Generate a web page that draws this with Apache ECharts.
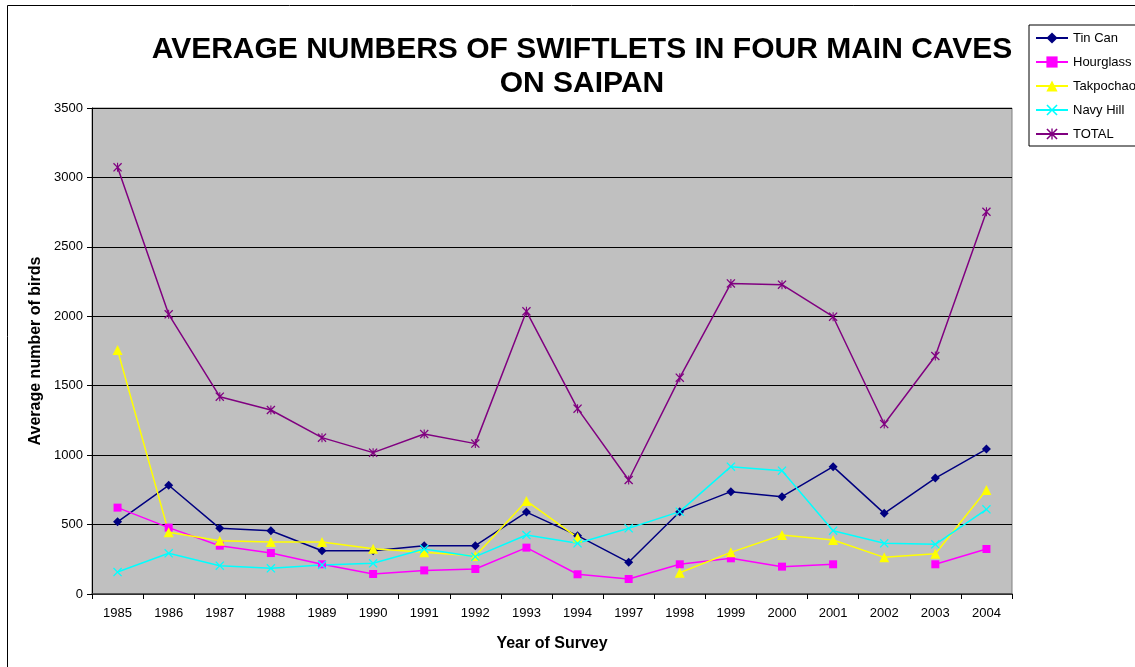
<!DOCTYPE html>
<html>
<head>
<meta charset="utf-8">
<title>Swiftlets on Saipan</title>
<script src="https://cdn.jsdelivr.net/npm/echarts@6/dist/echarts.min.js"></script>
<style>
  html, body { margin: 0; padding: 0; background: #fff; }
  #main { width: 1135px; height: 667px; }
</style>
</head>
<body>
<div id="main"></div>
<script>
const years = ['1985', '1986', '1987', '1988', '1989', '1990', '1991', '1992', '1993', '1994',
  '1997', '1998', '1999', '2000', '2001', '2002', '2003', '2004'];
const tinCan = [520, 783, 473, 456, 312, 311, 348, 348, 590, 420, 228, 593, 737, 701, 917, 581, 835, 1044];
const hourglass = [622, 478, 348, 295, 214, 144, 170, 180, 334, 142, 108, 214, 257, 197, 214, null, 214, 324];
const takpochao = [1757, 444, 384, 374, 374, 326, 300, 274, 670, 406, null, 153, 300, 425, 389, 264, 290, 749];
const navyHill = [158, 293, 204, 185, 209, 221, 324, 269, 425, 365, 473, 593, 917, 888, 456, 365, 358, 610];
const total = [3073, 2014, 1421, 1325, 1126, 1018, 1152, 1083, 2036, 1335, 821, 1558, 2237, 2228, 1997, 1224, 1714, 2753];

// x and asterisk markers as filled outlines
const crossPath = 'path://M0,1 L1,0 L5,4 L9,0 L10,1 L6,5 L10,9 L9,10 L5,6 L1,10 L0,9 L4,5 Z';
const starPath = 'path://M0,1 L1,0 L5,4 L9,0 L10,1 L6,5 L10,9 L9,10 L5,6 L1,10 L0,9 L4,5 Z M4.4,0 L5.6,0 L5.6,10 L4.4,10 Z';

const font = 'Arial, "Liberation Sans", sans-serif';

function makeSeries(name, data, color, symbol, size) {
  return {
    name: name,
    type: 'line',
    data: data,
    symbol: symbol,
    symbolSize: size,
    showSymbol: true,
    connectNulls: false,
    lineStyle: { color: color, width: 1.5 },
    itemStyle: { color: color, borderWidth: 0 },
    emphasis: { disabled: true }
  };
}

const option = {
  animation: false,
  textStyle: { fontFamily: font },
  title: {
    text: 'AVERAGE NUMBERS OF SWIFTLETS IN FOUR MAIN CAVES\nON SAIPAN',
    left: 577,
    top: 28,
    textAlign: 'center',
    textStyle: { fontFamily: font, fontSize: 30, fontWeight: 'bold', color: '#000', lineHeight: 34 }
  },
  legend: {
    orient: 'vertical',
    left: 1029,
    top: 25,
    padding: [6, 8, 5, 6],
    itemWidth: 32,
    itemHeight: 14,
    itemGap: 10,
    borderColor: '#000',
    borderWidth: 1,
    backgroundColor: '#fff',
    textStyle: { fontFamily: font, fontSize: 13, color: '#000', lineHeight: 14 },
    data: ['Tin Can', 'Hourglass', 'Takpochao', 'Navy Hill', 'TOTAL']
  },
  grid: {
    left: 92,
    top: 108,
    width: 920,
    height: 486,
    show: true,
    backgroundColor: '#C0C0C0',
    borderColor: '#808080',
    borderWidth: 1
  },
  xAxis: {
    type: 'category',
    data: years,
    boundaryGap: true,
    name: 'Year of Survey',
    nameLocation: 'middle',
    nameGap: 42,
    nameTextStyle: { fontFamily: font, fontSize: 16, fontWeight: 'bold', color: '#000' },
    axisLine: { lineStyle: { color: '#404040', width: 1.5 } },
    axisTick: { show: true, alignWithLabel: false, length: 5, inside: false, lineStyle: { color: '#000' } },
    axisLabel: { fontFamily: font, fontSize: 13, color: '#000', margin: 13 },
    splitLine: { show: false }
  },
  yAxis: {
    type: 'value',
    min: 0,
    max: 3500,
    interval: 500,
    name: 'Average number of birds',
    nameLocation: 'middle',
    nameGap: 48,
    nameTextStyle: { fontFamily: font, fontSize: 16, fontWeight: 'bold', color: '#000' },
    axisLine: { show: true, lineStyle: { color: '#000', width: 1 } },
    axisTick: { show: true, length: 5, lineStyle: { color: '#000' } },
    axisLabel: { fontFamily: font, fontSize: 13, color: '#000', margin: 9, formatter: function (v) { return String(v); } },
    splitLine: { show: true, lineStyle: { color: '#000', width: 1 } }
  },
  graphic: [
    {
      type: 'rect',
      shape: { x: 7.5, y: 5.5, width: 1200, height: 700 },
      style: { fill: 'none', stroke: '#000', lineWidth: 1 },
      silent: true,
      z: -10
    }
  ],
  series: [
    makeSeries('Tin Can', tinCan, '#000080', 'diamond', 9),
    makeSeries('Hourglass', hourglass, '#FF00FF', 'rect', 8),
    makeSeries('Takpochao', takpochao, '#FFFF00', 'triangle', 10),
    makeSeries('Navy Hill', navyHill, '#00FFFF', crossPath, 9),
    makeSeries('TOTAL', total, '#800080', starPath, 9)
  ]
};

const chart = echarts.init(document.getElementById('main'));
chart.setOption(option);
</script>
</body>
</html>
